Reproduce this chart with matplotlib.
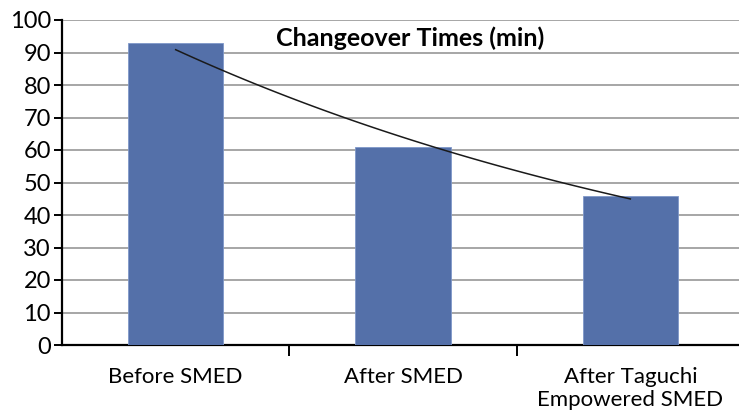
import matplotlib.pyplot as plt
import numpy as np

# changeover times in minutes
categories = ['Before SMED', 'After SMED', 'After Taguchi\nEmpowered SMED']
times = [93, 61, 46]

plt.rcParams['font.family'] = ['Lato', 'DejaVu Sans']

fig = plt.figure(figsize=(7.39, 4.12), dpi=100)
ax = fig.add_axes([62/739, 67/412, 682/739, 325/412])

x = np.arange(len(categories))
ax.bar(x, times, width=0.42, color='#5470a9', edgecolor='#7f97c9', linewidth=0.6, zorder=3)

# exponential trendline fitted on the bar values
b, a = np.polyfit(x, np.log(times), 1)
xs = np.linspace(0, 2, 100)
ax.plot(xs, np.exp(a + b * xs), color='#1a1a1a', linewidth=1.1, zorder=4)

ax.set_xlim(-0.5, 2.5)
ax.set_ylim(0, 100)
ax.set_yticks(range(0, 101, 10))
ax.yaxis.grid(True, color='#a6a6a6', linewidth=1.4, zorder=0)

ax.set_xticks(x)
ax.set_xticklabels(categories, fontsize=16, linespacing=1.2)
ax.set_xticks([0.5, 1.5], minor=True)
ax.tick_params(axis='x', which='major', length=0, pad=16)
ax.tick_params(axis='x', which='minor', length=8, width=1.4, direction='out')
ax.tick_params(axis='y', length=6, width=1.4, labelsize=17, pad=2)

for s in ['top', 'right']:
    ax.spines[s].set_visible(False)
for s in ['left', 'bottom']:
    ax.spines[s].set_linewidth(1.6)

ax.text(1.03, 94.5, 'Changeover Times (min)', ha='center', va='center',
        fontsize=18, fontweight='bold', zorder=5)

fig.savefig('out.png', dpi=100)
